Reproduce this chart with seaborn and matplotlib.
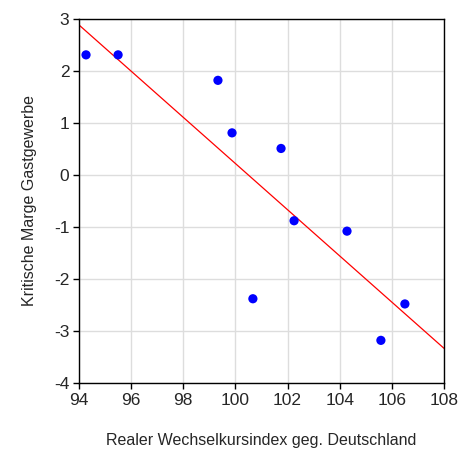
import numpy as np
import pandas as pd
import matplotlib
matplotlib.use("Agg")
import matplotlib.pyplot as plt
import seaborn as sns

# values
wechselkurs = [94.27, 95.5, 99.33, 99.87, 101.75, 102.25, 100.67, 104.28, 106.5, 105.58]
marge = [2.31, 2.31, 1.82, 0.81, 0.51, -0.88, -2.38, -1.08, -2.48, -3.18]
x_ticks = [94, 96, 98, 100, 102, 104, 106, 108]
y_ticks = [-4, -3, -2, -1, 0, 1, 2, 3]

df = pd.DataFrame({"x": wechselkurs, "y": marge})

sns.set_style("white")
plt.rcParams["font.family"] = ["Liberation Sans", "DejaVu Sans"]
plt.rcParams["axes.unicode_minus"] = False

fig = plt.figure(figsize=(4.6, 4.54), dpi=100)
ax = fig.add_axes([0.1717, 0.1564, 0.7935, 0.8018])
ax.set_xlim(94, 108)
ax.set_ylim(-4, 3)

ax.grid(True, color="#dddddd", linewidth=1)
ax.set_axisbelow(True)

sns.regplot(data=df, x="x", y="y", ci=None, truncate=False, ax=ax,
            scatter=False, line_kws={"color": "red", "linewidth": 0.9})
sns.scatterplot(data=df, x="x", y="y", ax=ax, color="#0000ff", s=44,
                edgecolor="none", zorder=3)

ax.set_xlim(94, 108)
ax.set_ylim(-4, 3)
ax.set_xticks(x_ticks)
ax.set_yticks(y_ticks)
ax.tick_params(axis="both", direction="out", length=4, width=1, color="black",
               labelsize=12.5, pad=3, bottom=True, left=True)

for sp in ax.spines.values():
    sp.set_color("black")
    sp.set_linewidth(1)

ax.set_xlabel("Realer Wechselkursindex geg. Deutschland", fontsize=11.5, labelpad=18)
ax.set_ylabel("Kritische Marge Gastgewerbe", fontsize=11.5, labelpad=12)

fig.savefig("out.png", dpi=100)
